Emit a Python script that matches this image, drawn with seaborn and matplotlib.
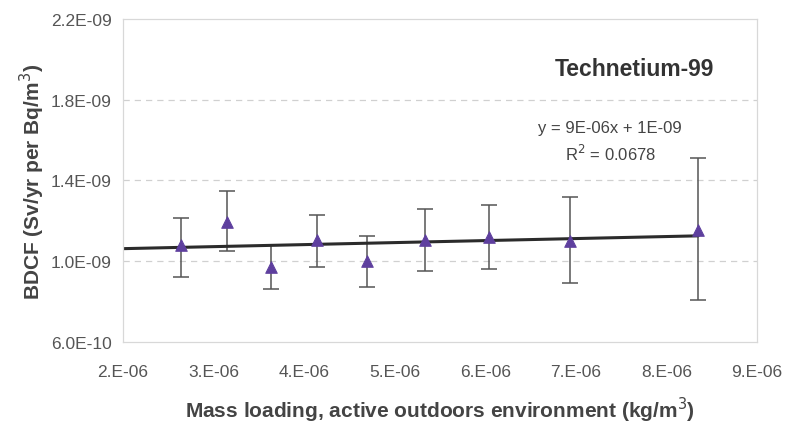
import numpy as np
import pandas as pd
import matplotlib
matplotlib.use("Agg")
import matplotlib.pyplot as plt
import seaborn as sns

# Dados
mass_loading = [2.64e-06, 3.15e-06, 3.64e-06, 4.14e-06, 4.70e-06, 5.34e-06, 6.04e-06, 6.94e-06, 8.35e-06]
bdcf = [1.078e-09, 1.193e-09, 0.972e-09, 1.104e-09, 1.002e-09, 1.106e-09, 1.121e-09, 1.099e-09, 1.153e-09]
err_upper = [1.212e-09, 1.346e-09, 1.079e-09, 1.227e-09, 1.123e-09, 1.257e-09, 1.277e-09, 1.316e-09, 1.509e-09]
err_lower = [0.921e-09, 1.049e-09, 0.862e-09, 0.970e-09, 0.872e-09, 0.951e-09, 0.960e-09, 0.891e-09, 0.807e-09]

x_ticks = [2e-06, 3e-06, 4e-06, 5e-06, 6e-06, 7e-06, 8e-06, 9e-06]
x_tick_labels = ["2.E-06", "3.E-06", "4.E-06", "5.E-06", "6.E-06", "7.E-06", "8.E-06", "9.E-06"]
y_ticks = [6e-10, 1.0e-09, 1.4e-09, 1.8e-09, 2.2e-09]
y_tick_labels = ["6.0E-10", "1.0E-09", "1.4E-09", "1.8E-09", "2.2E-09"]

sns.set_theme(style="white")
plt.rcParams["font.family"] = ["Liberation Sans", "DejaVu Sans"]

df = pd.DataFrame({"x": mass_loading, "y": bdcf})

fig = plt.figure(figsize=(7.87, 4.27), dpi=100)
ax = fig.add_axes([0.156, 0.197, 0.806, 0.756])

# Linha de tendência (mínimos quadrados)
slope, intercept = np.polyfit(df["x"], df["y"], 1)
trend = pd.DataFrame({"x": [x_ticks[0], max(mass_loading)]})
trend["y"] = slope * trend["x"] + intercept
sns.lineplot(x="x", y="y", data=trend, ax=ax, color="#2b2b2b", linewidth=2.2, zorder=2)

# Barras de erro
yerr = [np.array(bdcf) - np.array(err_lower), np.array(err_upper) - np.array(bdcf)]
ax.errorbar(mass_loading, bdcf, yerr=yerr, fmt="none", ecolor="#555555",
            elinewidth=1.1, capsize=5.5, capthick=1.1, zorder=1)

# Pontos
sns.scatterplot(x="x", y="y", data=df, ax=ax, marker="^", s=70,
                color="#5e3f9e", edgecolor="#5e3f9e", zorder=3)

ax.set_xlim(x_ticks[0], x_ticks[-1])
ax.set_ylim(y_ticks[0], y_ticks[-1])
ax.set_xticks(x_ticks)
ax.set_xticklabels(x_tick_labels)
ax.set_yticks(y_ticks)
ax.set_yticklabels(y_tick_labels)
ax.tick_params(axis="both", labelsize=12.5, colors="#555555", length=3, pad=5)
ax.tick_params(axis="x", pad=13)

for y in y_ticks[1:-1]:
    ax.axhline(y, color="#d0d0d0", linestyle=(0, (5, 4)), linewidth=0.9, zorder=0)

for side in ["top", "right", "bottom", "left"]:
    ax.spines[side].set_color("#d8d8d8")
    ax.spines[side].set_linewidth(0.9)

ax.set_xlabel("Mass loading, active outdoors environment (kg/m$^3$)",
              fontsize=15, fontweight="bold", color="#444444", labelpad=11)
ax.set_ylabel("BDCF (Sv/yr per Bq/m$^3$)", fontsize=15, fontweight="bold",
              color="#444444", labelpad=3)

ax.text(7.65e-06, 1.955e-09, "Technetium-99", fontsize=16.5, fontweight="bold",
        color="#333333", ha="center", va="center")
ax.text(7.38e-06, 1.665e-09, "y = 9E-06x + 1E-09", fontsize=12,
        color="#444444", ha="center", va="center")
ax.text(7.38e-06, 1.535e-09, "R$^2$ = 0.0678", fontsize=12,
        color="#444444", ha="center", va="center")

fig.savefig("out.png", dpi=100, facecolor="white")
